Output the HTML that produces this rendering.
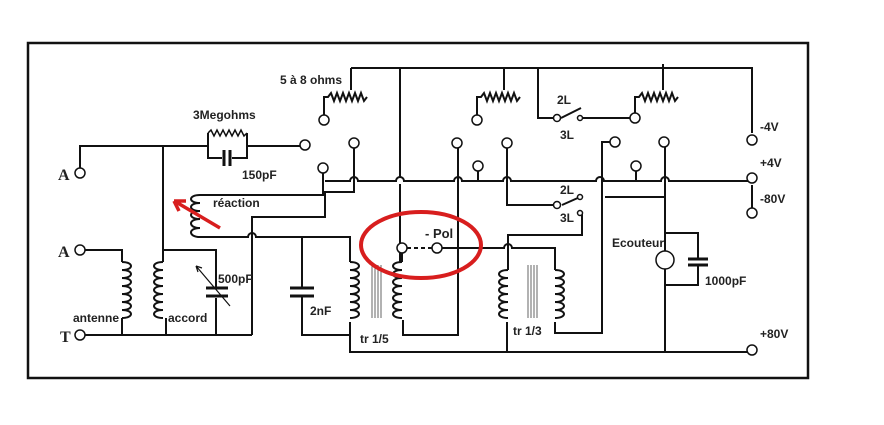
<!DOCTYPE html>
<html><head><meta charset="utf-8"><style>
html,body{margin:0;padding:0;background:#fff;}
svg{display:block}
text{font-family:"Liberation Sans",sans-serif;font-size:12px;fill:#222;font-weight:bold}
</style></head><body>
<svg width="884" height="425" viewBox="0 0 884 425" xmlns="http://www.w3.org/2000/svg">
<g fill="none" stroke="#111" stroke-width="2">
<rect x="28" y="43" width="780" height="335" stroke-width="2.5"/>
<path d="M351 68 H752 V133"/>
<path d="M400 68 V178 M400 184 V262"/>
<path d="M351 68 V90" /><path d="M324 116 V97 h4 l3 -4 3 8 3 -8 3 8 3 -8 3 8 3 -8 3 8 3 -8 3 8 3 -8 3 8 3 -4"/>
<path d="M504 68 V90"/><path d="M477 116 V97 h4 l3 -4 3 8 3 -8 3 8 3 -8 3 8 3 -8 3 8 3 -8 3 8 3 -8 3 8 3 -4"/>
<path d="M663 64 V90"/><path d="M635 114 V97 h4 l3 -4 3 8 3 -8 3 8 3 -8 3 8 3 -8 3 8 3 -8 3 8 3 -8 3 8 3 -4"/>
<path d="M538 68 V118 H553 M561 118 L581 108 M583 118 H631"/>
<path d="M325 181 H350 a4 4 0 0 1 8 0 H396 a4 4 0 0 1 8 0 H454 a4 4 0 0 1 8 0 H503 a4 4 0 0 1 8 0 H596 a4 4 0 0 1 8 0 H661 a4 4 0 0 1 8 0 H748"/>
<path d="M752 185 V209"/>
<path d="M323 172 V195 H200 M354 148 V192 H325 V217 H252 V335"/>
<path d="M200 237 H248 a4 4 0 0 1 8 0 H350 V262"/>
<path d="M458 147 V335 H403 V320"/>
<path d="M478 170 V181 M636 170 V181"/>
<path d="M507 147 V205 H553 M562 205 L580 197 M582 213 V235 H508 V270"/>
<path d="M437 248 H504 a4 4 0 0 1 8 0 H555 V270"/>
<path d="M555 322 V333 H602 V142 H611"/>
<path d="M605 197 H665"/>
<path d="M665 147 V252 M665 268 V352"/>
<path d="M665 233 H698 V258 M698 266 V285 H665"/>
<path d="M688 259 H708 M688 265 H708" stroke-width="3"/>
<path d="M350 322 V352 H748"/>
<path d="M80 172 V146 H208 M247 146 H301"/>
<path d="M208 133 V158 H222 M232 158 H247 V133"/>
<path d="M208 133 l3 -3 3 6 3 -6 3 6 3 -6 3 6 3 -6 3 6 3 -6 3 6 3 -6 3 6 3 -3" stroke-width="1.5"/>
<path d="M224 150 V166 M230 150 V166" stroke-width="3"/>
<path d="M163 146 V250 H216 V288 M216 298 V335"/>
<path d="M206 288 H228 M206 296 H228" stroke-width="3"/>
<path d="M196 266 L230 306 M196 266 l2 6 M196 266 l6 2" stroke-width="1.2"/>
<path d="M84 250 H122 V262 M122 318 V335 M84 335 H252"/>
<path d="M163 250 V262 M166 318 V335"/>
<path d="M302 237 V288 M302 296 V335 H350"/>
<path d="M290 288 H314 M290 296 H314" stroke-width="3"/>
<path d="M402 252 V262"/>
<path d="M507 322 V352"/>
</g>
<g fill="none" stroke="#111" stroke-width="2">
<path d="M122 262 c12 0 12 8 0 8 m0 0 c12 0 12 8 0 8 m0 0 c12 0 12 8 0 8 m0 0 c12 0 12 8 0 8 m0 0 c12 0 12 8 0 8 m0 0 c12 0 12 8 0 8 m0 0 c12 0 12 8 0 8"/>
<path d="M163 262 c-12 0 -12 8 0 8 m0 0 c-12 0 -12 8 0 8 m0 0 c-12 0 -12 8 0 8 m0 0 c-12 0 -12 8 0 8 m0 0 c-12 0 -12 8 0 8 m0 0 c-12 0 -12 8 0 8 m0 0 c-12 0 -12 8 0 8"/>
<path d="M200 195 c-12 0 -12 8 0 8 m0 0 c-12 0 -12 8 0 8 m0 0 c-12 0 -12 8 0 8 m0 0 c-12 0 -12 9 0 9 m0 0 c-12 0 -12 9 0 9"/>
<path d="M350 262 c12 0 12 8 0 8 m0 0 c12 0 12 8 0 8 m0 0 c12 0 12 8 0 8 m0 0 c12 0 12 8 0 8 m0 0 c12 0 12 8 0 8 m0 0 c12 0 12 8 0 8 m0 0 c12 0 12 8 0 8"/>
<path d="M402 262 c-12 0 -12 8 0 8 m0 0 c-12 0 -12 8 0 8 m0 0 c-12 0 -12 8 0 8 m0 0 c-12 0 -12 8 0 8 m0 0 c-12 0 -12 8 0 8 m0 0 c-12 0 -12 8 0 8 m0 0 c-12 0 -12 8 0 8"/>
<path d="M508 270 c-12 0 -12 8 0 8 m0 0 c-12 0 -12 8 0 8 m0 0 c-12 0 -12 8 0 8 m0 0 c-12 0 -12 8 0 8 m0 0 c-12 0 -12 8 0 8 m0 0 c-12 0 -12 8 0 8"/>
<path d="M555 270 c12 0 12 8 0 8 m0 0 c12 0 12 8 0 8 m0 0 c12 0 12 8 0 8 m0 0 c12 0 12 8 0 8 m0 0 c12 0 12 8 0 8 m0 0 c12 0 12 8 0 8"/>
</g>
<g stroke="#555" stroke-width="0.9">
<path d="M372 265 V318 M375 265 V318 M378 265 V318 M381 265 V318"/>
<path d="M528 265 V318 M531 265 V318 M534 265 V318 M537 265 V318"/>
</g>
<g fill="#fff" stroke="#111" stroke-width="1.5">
<circle cx="324" cy="120" r="5"/><circle cx="477" cy="120" r="5"/><circle cx="635" cy="118" r="5"/>
<circle cx="305" cy="145" r="5"/><circle cx="323" cy="168" r="5"/><circle cx="354" cy="143" r="5"/>
<circle cx="457" cy="143" r="5"/><circle cx="478" cy="166" r="5"/><circle cx="507" cy="143" r="5"/>
<circle cx="615" cy="142" r="5"/><circle cx="636" cy="166" r="5"/><circle cx="664" cy="142" r="5"/>
<circle cx="557" cy="118" r="3.5"/><circle cx="580" cy="118" r="2.5"/>
<circle cx="557" cy="205" r="3.5"/><circle cx="580" cy="197" r="2.5"/><circle cx="580" cy="213" r="2.5"/>
<circle cx="752" cy="140" r="5"/><circle cx="752" cy="178" r="5"/><circle cx="752" cy="213" r="5"/><circle cx="752" cy="350" r="5"/>
<circle cx="80" cy="173" r="5"/><circle cx="80" cy="250" r="5"/><circle cx="80" cy="335" r="5"/>
<circle cx="402" cy="248" r="5"/><circle cx="437" cy="248" r="5"/>
<circle cx="665" cy="260" r="9"/>
</g>
<path d="M407 248 H432" stroke="#111" stroke-width="2" stroke-dasharray="4 3"/>
<ellipse cx="421" cy="245" rx="60" ry="33" fill="none" stroke="#d81e1e" stroke-width="4"/>
<path d="M220 228 L176 202 M174 201 l12 0 M174 201 l5 10" stroke="#d81e1e" stroke-width="3.5" fill="none"/>
<text x="280" y="84">5 à 8 ohms</text>
<text x="193" y="119">3Megohms</text>
<text x="242" y="179">150pF</text>
<text x="213" y="207">réaction</text>
<text x="218" y="283">500pF</text>
<text x="73" y="322">antenne</text>
<text x="168" y="322">accord</text>
<text x="310" y="315">2nF</text>
<text x="360" y="343">tr 1/5</text>
<text x="513" y="335">tr 1/3</text>
<text x="425" y="238" style="font-size:13px">- Pol</text>
<text x="557" y="104">2L</text><text x="560" y="139">3L</text>
<text x="560" y="194">2L</text><text x="560" y="222">3L</text>
<text x="612" y="247">Ecouteur</text>
<text x="705" y="285">1000pF</text>
<text x="760" y="131">-4V</text><text x="760" y="167">+4V</text><text x="760" y="203">-80V</text><text x="760" y="338">+80V</text>
<text x="58" y="180" style="font-family:'Liberation Serif',serif;font-size:16px">A</text>
<text x="58" y="257" style="font-family:'Liberation Serif',serif;font-size:16px">A</text>
<text x="60" y="342" style="font-family:'Liberation Serif',serif;font-size:16px">T</text>
</svg>
</body></html>
